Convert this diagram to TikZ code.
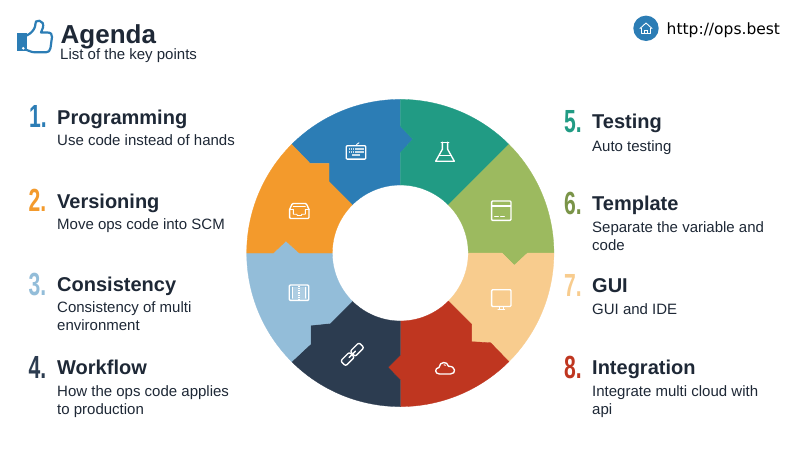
\documentclass[tikz,border=0pt]{standalone}
\usepackage{fontspec}
\setmainfont{Liberation Sans}
\newfontfamily\numfont[FakeStretch=0.66]{Liberation Sans}
\newfontfamily\urlfont{DejaVu Sans}
\definecolor{cBlue}{HTML}{2C7DB5}
\definecolor{cTeal}{HTML}{219B84}
\definecolor{cGreen}{HTML}{9CBA5F}
\definecolor{cOlive}{HTML}{7A9448}
\definecolor{cPeach}{HTML}{F8CC8E}
\definecolor{cRed}{HTML}{BF3620}
\definecolor{cNavy}{HTML}{2C3C50}
\definecolor{cSky}{HTML}{93BDD9}
\definecolor{cOrange}{HTML}{F39A2C}
\definecolor{cInk}{HTML}{1E2836}
\tikzset{
  x=1pt,y=-1pt,
  head/.style={anchor=base west,inner sep=0pt,font=\fontsize{20}{24}\selectfont\bfseries,text=cInk},
  sub/.style={anchor=north west,inner sep=0pt,align=left,font=\fontsize{15}{18}\selectfont,text=cInk},
  num/.style={anchor=base west,inner sep=0pt,font=\fontsize{32}{32}\selectfont\numfont\bfseries},
  seg/.style={line width=0.3pt,draw=#1,fill=#1},
  ico/.style={draw=white,line width=1.35pt,line join=round,line cap=round},
  thin ico/.style={draw=white,line width=0.9pt,line join=round,line cap=round},
}
\begin{document}
\begin{tikzpicture}
\useasboundingbox[fill=white] (0,0) rectangle (800,450);
% ---- ring
\begin{scope}[shift={(400.3,253)}]
\path[seg=cBlue] (0,-153.6) -- (0,-127) -- (12.5,-113.7) -- (0,-100.3) -- (0,-68)
  arc(-90:-135:68) -- (-71.3,-71.3) -- (-71.3,-89.7) -- (-90.3,-89.7) -- (-135:153.6) arc(-135:-90:153.6) -- cycle;
\path[seg=cTeal] (0,-153.6) -- (0,-127) -- (12.5,-113.7) -- (0,-100.3) -- (0,-68)
  arc(-90:-45:68) -- (-45:153.6) arc(-45:-90:153.6) -- cycle;
\path[seg=cGreen] (-45:153.6) -- (-45:68) arc(-45:0:68) -- (101.7,0) -- (114,12.3) -- (127.3,0) -- (153.6,0) arc(0:-45:153.6) -- cycle;
\path[seg=cPeach] (153.6,0) -- (127.3,0) -- (114,12.3) -- (101.7,0) -- (68,0) arc(0:45:68)
  -- (71.3,71.3) -- (71.3,88.7) -- (90.3,89.7) -- (45:153.6) arc(45:0:153.6) -- cycle;
\path[seg=cRed] (45:153.6) -- (90.3,89.7) -- (71.3,88.7) -- (71.3,71.3) -- (45:68) arc(45:90:68)
  -- (0,102) -- (-12.3,114.3) -- (0,127) -- (0,153.6) arc(90:45:153.6) -- cycle;
\path[seg=cNavy] (0,153.6) -- (0,127) -- (-12.3,114.3) -- (0,102) -- (0,68) arc(90:135:68)
  -- (-70.3,70.3) -- (-89.7,72.3) -- (-89.7,91) -- (135:153.6) arc(135:90:153.6) -- cycle;
\path[seg=cSky] (135:153.6) -- (-89.7,91) -- (-89.7,72.3) -- (-70.3,70.3) -- (135:68) arc(135:180:68)
  -- (-101,0) -- (-114.3,-12) -- (-127,0) -- (-153.6,0) arc(180:135:153.6) -- cycle;
\path[seg=cOrange] (-153.6,0) -- (-127,0) -- (-114.3,-12) -- (-101,0) -- (-68,0) arc(180:225:68)
  -- (-71.3,-71.3) -- (-71.3,-89.7) -- (-90.3,-89.7) -- (-135:153.6) arc(225:180:153.6) -- cycle;
% keyboard
\begin{scope}[shift={(-44.3,-100.7)}]
  \draw[ico,rounded corners=0.8pt] (-9.7,-6.5) rectangle (9.7,6.8);
  \draw[thin ico] (0,-6.5) .. controls (0,-8.5) and (2,-8) .. (3,-9.5);
  \foreach \yy/\aa/\bb in {-3/-7.5/7.5,0/-7.5/7.5,3/-4/4}
    \draw[white!75!cBlue,line width=2pt,dash pattern=on 1.7pt off 0.4pt] (\aa,\yy) -- (\bb,\yy);
\end{scope}
% flask
\begin{scope}[shift={(44.7,-100.3)}]
  \draw[ico] (-3.8,-10.5) -- (3.8,-10.5);
  \draw[ico] (-2.6,-10.5) -- (-2.6,-3.5) -- (-9.3,8.5) -- (9.3,8.5) -- (2.6,-3.5) -- (2.6,-10.5);
  \draw[thin ico] (-5.6,3) -- (5.6,3);
\end{scope}
% card
\begin{scope}[shift={(101,-42.3)}]
  \draw[ico,rounded corners=1pt] (-9.7,-9.7) rectangle (9.7,9.7);
  \fill[white] (-9.7,-5.5) rectangle (9.7,-3.3);
  \draw[thin ico] (-6.8,5.5) -- (-2.8,5.5) (-0.8,5.5) -- (3.2,5.5);
\end{scope}
% monitor
\begin{scope}[shift={(101,47)}]
  \draw[ico,rounded corners=1pt] (-9.7,-10.3) rectangle (9.7,6.5);
  \draw[thin ico] (-2,6.5) -- (-2,9.5) (2,6.5) -- (2,9.5);
  \draw[ico] (-3.2,9.8) -- (3.2,9.8);
\end{scope}
% cloud
\begin{scope}[shift={(44.7,115.3)}]
  \draw[ico] (-5.5,5.7) .. controls (-10.5,5.7) and (-10.5,-0.5) .. (-6,-0.8)
    .. controls (-5.5,-7) and (2.5,-7.5) .. (3.5,-2)
    .. controls (10.8,-2.5) and (11.5,5.7) .. (5.5,5.7) -- cycle;
  \draw[thin ico] (-1,-3.5) -- (0.5,-3);
\end{scope}
% chain
\begin{scope}[shift={(-48,101.3)},rotate=45]
  \draw[ico,rounded corners=2pt] (-13,-3.6) rectangle (-0.5,3.6);
  \draw[ico,rounded corners=2pt] (0.5,-3.6) rectangle (13,3.6);
  \draw[ico] (-4.5,0) -- (4.5,0);
\end{scope}
% book
\begin{scope}[shift={(-101.3,39.7)}]
  \fill[white,opacity=0.25] (-7.5,-5.5) rectangle (7.5,6);
  \draw[ico,rounded corners=1pt] (-9.7,-7.7) rectangle (9.7,7.7);
  \draw[thin ico] (-6.5,-5.5) -- (-6.5,5.5) (6.5,-5.5) -- (6.5,5.5);
  \draw[white,line width=1.4pt,dash pattern=on 1pt off 0.8pt] (0,-6.5) -- (0,6.5);
\end{scope}
% inbox
\begin{scope}[shift={(-101,-42)}]
  \draw[ico,rounded corners=1pt] (-9.7,-1.5) -- (-9.7,7.5) -- (9.7,7.5) -- (9.7,-1.5);
  \draw[ico,rounded corners=1pt] (-9.7,-1.5) -- (-7,-7.5) -- (7,-7.5) -- (9.7,-1.5);
  \draw[thin ico] (-9.7,-1.5) -- (-6,-1.5) -- (-6,3.2) -- (-2.5,3.2) -- (-2,4.5) -- (2,4.5) -- (2.5,3.2) -- (6,3.2) -- (6,-1.5) -- (9.7,-1.5);
  \draw[thin ico] (-6,-4.5) -- (6,-4.5);
\end{scope}
\end{scope}
% ---- header
\fill[cBlue] (17.3,33.3) rectangle (26.7,51);
\fill[white] (23.3,48.3) circle (1.4);
\draw[cBlue,line width=2.2pt,line join=round,line cap=round]
  (26.7,35.5) .. controls (31,33.5) and (34,30) .. (35,26.7)
  .. controls (35.5,24) and (35.5,23) .. (36,21.5)
  .. controls (38,20) and (41,20.5) .. (42.7,23)
  .. controls (44,26) and (42.5,29.5) .. (41,32.5)
  -- (47.5,32.5) .. controls (51,32.5) and (52.3,34.5) .. (52,37)
  -- (50.5,48) .. controls (50,51) and (48.5,52.3) .. (46,52.3)
  -- (35,52.3) .. controls (31,52.3) and (29,50.5) .. (26.7,50);
\node[anchor=base west,inner sep=0pt,font=\fontsize{26}{30}\selectfont\bfseries,text=cInk] (title) at (60.5,43.3) {Agenda};
\node[anchor=base west,inner sep=0pt,font=\fontsize{15}{18}\selectfont,text=cInk] (subtitle) at (60,59.3) {List of the key points};
\fill[cBlue] (646,28.3) circle (12.7);
\draw[white,line width=0.9pt,line join=round,line cap=round] (640,28.5) -- (646,23) -- (652,28.5);
\draw[white,line width=0.9pt,line join=round] (641.5,28) -- (641.5,33.7) -- (650.5,33.7) -- (650.5,28);
\draw[white,line width=0.7pt] (644.3,33.7) -- (644.3,30) -- (647.7,30) -- (647.7,33.7);
\node[anchor=base west,inner sep=0pt,font=\fontsize{15.5}{18}\selectfont\urlfont,text=black] (url) at (666.5,34.3) {http://ops.best};
% ---- left list
\node[num,text=cBlue] (n1) at (29,127.7) {1.};
\node[head] (h1) at (57,124) {Programming};
\node[sub] (s1) at (57,134.3) {Use code instead of hands};
\node[num,text=cOrange] (n2) at (28.5,211.7) {2.};
\node[head] (h2) at (57,208) {Versioning};
\node[sub] (s2) at (57,218.8) {Move ops code into SCM};
\node[num,text=cSky] (n3) at (28.5,295) {3.};
\node[head] (h3) at (57,291.7) {Consistency};
\node[sub] (s3) at (57,301.7) {Consistency of multi\\environment};
\node[num,text=cNavy] (n4) at (28.5,378) {4.};
\node[head] (h4) at (57,374.7) {Workflow};
\node[sub] (s4) at (57,385) {How the ops code applies\\to production};
% ---- right list
\node[num,text=cTeal] (n5) at (564,132) {5.};
\node[head] (h5) at (592,128.3) {Testing};
\node[sub] (s5) at (592,140) {Auto testing};
\node[num,text=cOlive] (n6) at (564,214) {6.};
\node[head] (h6) at (592,210.7) {Template};
\node[sub] (s6) at (592,221.5) {Separate the variable and\\code};
\node[num,text=cPeach] (n7) at (564,296) {7.};
\node[head] (h7) at (592,292.3) {GUI};
\node[sub] (s7) at (592,303) {GUI and IDE};
\node[num,text=cRed] (n8) at (564,378) {8.};
\node[head] (h8) at (592,374.3) {Integration};
\node[sub] (s8) at (592,385.3) {Integrate multi cloud with\\api};
\end{tikzpicture}
\end{document}
